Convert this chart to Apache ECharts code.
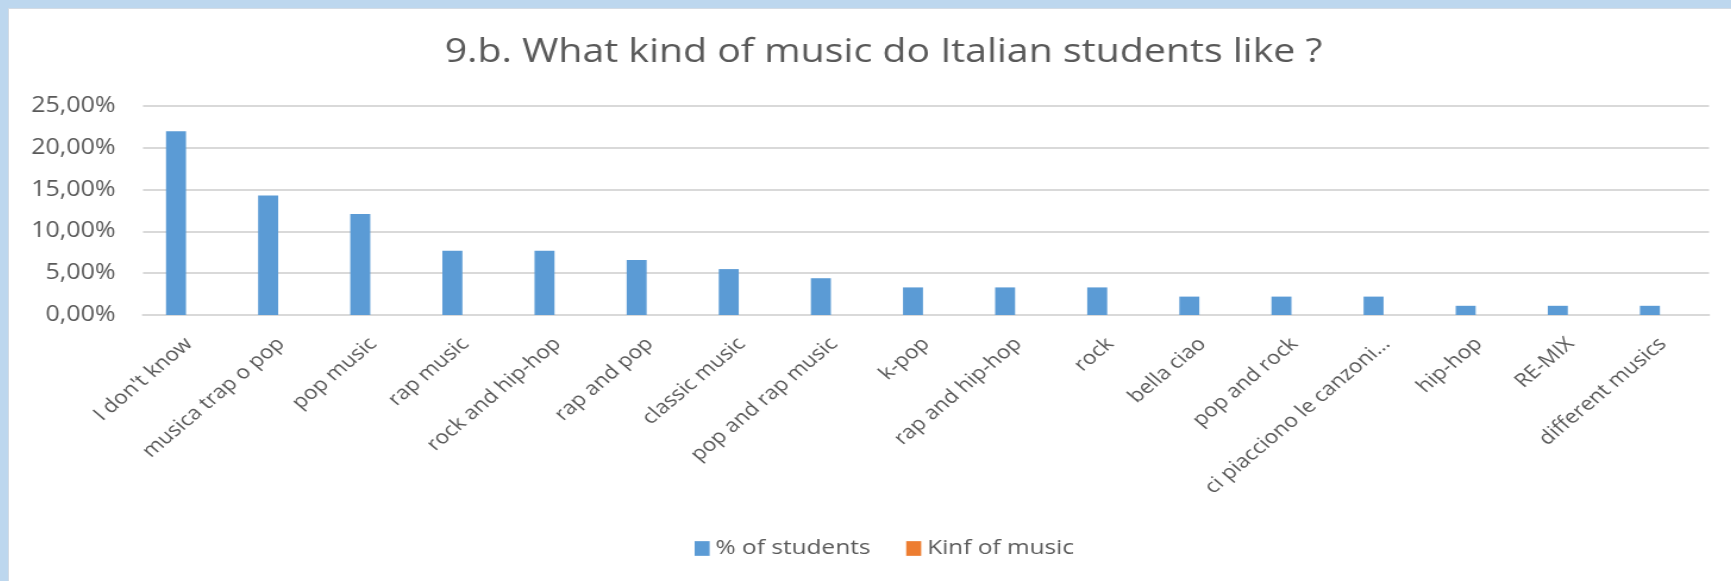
<!DOCTYPE html>
<html>
<head>
<meta charset="utf-8">
<script src="https://cdn.jsdelivr.net/npm/echarts@6/dist/echarts.min.js"></script>
<style>
html,body{margin:0;padding:0;background:#fff;overflow:hidden;}
#frame{position:absolute;left:0;top:0;width:1731px;height:581px;background:#bdd7ee;}
#panel{position:absolute;left:8px;top:8px;width:1723px;height:573px;background:#fff;box-shadow:inset 1px 1px 0 #d3dbe4;overflow:hidden;}
#main{position:absolute;left:0;top:0;width:1448px;height:573px;transform:scaleX(1.19);transform-origin:0 0;}
</style>
</head>
<body>
<div id="frame"><div id="panel"><div id="main"></div></div></div>
<script>
const categories = ["I don't know", "musica trap o pop", "pop music", "rap music", "rock and hip-hop", "rap and pop", "classic music", "pop and rap music", "k-pop", "rap and hip-hop", "rock", "bella ciao", "pop and rock", "ci piacciono le canzoni…", "hip-hop", "RE-MIX", "different musics"];
const studentsPct = [21.98, 14.29, 12.09, 7.69, 7.69, 6.59, 5.49, 4.40, 3.30, 3.30, 3.30, 2.20, 2.20, 2.20, 1.10, 1.10, 1.10];
const kindOfMusic = [];
const yTicks = [0, 5, 10, 15, 20, 25];
const seriesNames = ["% of students", "Kinf of music"];
const titleText = "9.b. What kind of music do Italian students like ?";

const chart = echarts.init(document.getElementById('main'), null, {renderer: 'canvas'});
const font = "'Open Sans', 'Noto Sans', sans-serif";
chart.setOption({
  animation: false,
  backgroundColor: 'transparent',
  title: {
    text: titleText,
    left: 362, top: 23,
    textStyle: {fontFamily: font, fontSize: 33, fontWeight: 'normal', color: '#595959'}
  },
  legend: {
    data: seriesNames,
    left: 572, top: 525,
    icon: 'rect', itemWidth: 12.6, itemHeight: 14.7, itemGap: 30,
    textStyle: {fontFamily: font, fontSize: 20.5, color: '#595959'}
  },
  grid: {left: 113.4, right: 18.6, top: 98, bottom: 266, containLabel: false},
  xAxis: {
    type: 'category',
    data: categories,
    axisLine: {lineStyle: {color: '#d9d9d9', width: 2}},
    axisTick: {show: false},
    axisLabel: {rotate: 45, interval: 0, margin: 26, fontFamily: font, fontSize: 19, color: '#595959'}
  },
  yAxis: {
    type: 'value',
    min: yTicks[0], max: yTicks[yTicks.length - 1], interval: 5,
    axisLine: {show: false}, axisTick: {show: false},
    splitLine: {lineStyle: {color: '#d9d9d9', width: 2}},
    axisLabel: {margin: 23, fontFamily: font, fontSize: 21, color: '#595959',
      formatter: v => v.toFixed(2).replace('.', ',') + '%'}
  },
  series: [
    {name: seriesNames[0], type: 'bar', data: studentsPct, barWidth: 16.8, barGap: '30%',
     itemStyle: {color: '#5b9bd5'}},
    {name: seriesNames[1], type: 'bar', data: kindOfMusic, barWidth: 16.8, barGap: '30%',
     itemStyle: {color: '#ed7d31'}}
  ]
});
</script>
</body>
</html>
